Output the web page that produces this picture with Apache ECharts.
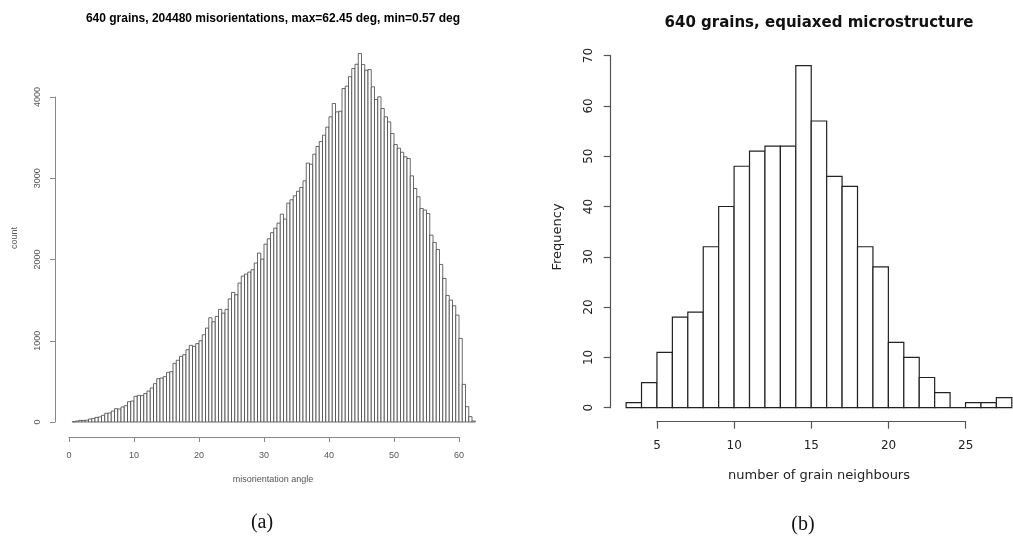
<!DOCTYPE html>
<html>
<head>
<meta charset="utf-8">
<script src="https://cdn.jsdelivr.net/npm/echarts@6/dist/echarts.min.js"></script>
<style>
  html, body { margin: 0; padding: 0; background: #fff; }
  #chart { width: 1013px; height: 540px; }
</style>
</head>
<body>
<div id="chart"></div>
<script>
// (a) misorientation angle histogram, 0.5 deg bins starting at 0.5 deg
var angleStart = 0.5;
var angleBinWidth = 0.5;
var angleCounts = [
  4, 12, 20, 20, 22, 37, 45, 57, 62, 82,
  107, 111, 135, 164, 160, 185, 201, 250, 258, 316,
  328, 324, 350, 381, 418, 472, 533, 541, 558, 611,
  619, 722, 760, 808, 828, 890, 943, 931, 965, 1000,
  1074, 1156, 1283, 1234, 1300, 1386, 1340, 1386, 1515, 1595,
  1566, 1710, 1796, 1820, 1845, 1874, 1956, 2079, 2005, 2189,
  2255, 2330, 2386, 2448, 2558, 2497, 2694, 2735, 2784, 2840,
  2886, 2968, 3186, 3173, 3296, 3391, 3452, 3530, 3629, 3756,
  3920, 3817, 3825, 4104, 4133, 4250, 4350, 4403, 4535, 4399,
  4330, 4338, 4125, 3969, 4002, 3858, 3756, 3694, 3551, 3415,
  3370, 3320, 3264, 3243, 3030, 2874, 2772, 2628, 2608, 2567,
  2300, 2210, 2124, 1939, 1767, 1558, 1500, 1431, 1316, 1029,
  463, 189, 66, 12
];
var angleTicks = [0, 10, 20, 30, 40, 50, 60];
var countTicks = [0, 1000, 2000, 3000, 4000];

// (b) number of neighbours histogram, unit bins from 3 to 28
var nbStart = 3;
var nbBinWidth = 1;
var nbCounts = [1, 5, 11, 18, 19, 32, 40, 48, 51, 52, 52, 68, 57, 46, 44, 32, 28, 13, 10, 6, 3, 0, 1, 1, 2];
var nbTicks = [5, 10, 15, 20, 25];
var freqTicks = [0, 10, 20, 30, 40, 50, 60, 70];

function toBins(start, width, counts) {
  return counts.map(function (c, i) {
    return [start + i * width, start + (i + 1) * width, c];
  });
}

function histItem(stroke, lw) {
  return function (params, api) {
    var p0 = api.coord([api.value(0), 0]);
    var p1 = api.coord([api.value(1), api.value(2)]);
    return {
      type: 'rect',
      shape: { x: p0[0], y: p1[1], width: p1[0] - p0[0], height: p0[1] - p1[1] },
      style: { fill: '#fff', stroke: stroke, lineWidth: lw }
    };
  };
}

function plain(v) {
  return String(v);
}

var leftFont = 'Liberation Sans';
var rightFont = 'DejaVu Sans';
var hidden = { show: false };

var option = {
  animation: false,
  backgroundColor: '#fff',
  title: [
    { text: '640 grains, 204480 misorientations, max=62.45 deg, min=0.57 deg',
      left: 268, top: 8, textAlign: 'center',
      textStyle: { fontFamily: leftFont, fontSize: 12, fontWeight: 'bold', color: '#000' } },
    { text: '640 grains, equiaxed microstructure',
      left: 814, top: 11, textAlign: 'center',
      textStyle: { fontFamily: rightFont, fontSize: 15, fontWeight: 'bold', color: '#111' } }
  ],
  grid: [
    { left: 69, top: 48.25, width: 406.25, height: 373.75 },   // a: data
    { left: 69, top: 427, width: 390, height: 10 },            // a: x axis
    { left: 55, top: 97, width: 10, height: 325 },             // a: y axis
    { left: 626.1, top: 55.6, width: 385.7, height: 352.1 },   // b: data
    { left: 657, top: 411.7, width: 308.7, height: 10 },       // b: x axis
    { left: 610.7, top: 55.6, width: 10, height: 352.1 }       // b: y axis
  ],
  xAxis: [
    { gridIndex: 0, type: 'value', min: 0, max: 62.5, show: false },
    { gridIndex: 1, type: 'value', min: angleTicks[0], max: angleTicks[angleTicks.length - 1], interval: 10,
      axisLine: { lineStyle: { color: '#888', width: 1 } },
      axisTick: { length: 5, lineStyle: { color: '#888' } },
      splitLine: hidden,
      axisLabel: { fontFamily: leftFont, fontSize: 9, color: '#555', margin: 14, formatter: plain } },
    { gridIndex: 2, type: 'value', show: false },
    { gridIndex: 3, type: 'value', min: 3, max: 28, show: false },
    { gridIndex: 4, type: 'value', min: nbTicks[0], max: nbTicks[nbTicks.length - 1], interval: 5,
      axisLine: { lineStyle: { color: '#555', width: 1.2 } },
      axisTick: { length: 7, lineStyle: { color: '#555', width: 1.2 } },
      splitLine: hidden,
      axisLabel: { fontFamily: rightFont, fontSize: 12, color: '#222', margin: 18, formatter: plain } },
    { gridIndex: 5, type: 'value', show: false }
  ],
  yAxis: [
    { gridIndex: 0, type: 'value', min: 0, max: 4600, show: false },
    { gridIndex: 1, type: 'value', show: false },
    { gridIndex: 2, type: 'value', min: countTicks[0], max: countTicks[countTicks.length - 1], interval: 1000,
      axisLine: { show: true, lineStyle: { color: '#888', width: 1 } },
      axisTick: { show: true, length: 5, lineStyle: { color: '#888' } },
      splitLine: hidden,
      axisLabel: { fontFamily: leftFont, fontSize: 9, color: '#555', rotate: 90, margin: 13, formatter: plain } },
    { gridIndex: 3, type: 'value', min: 0, max: 70, show: false },
    { gridIndex: 4, type: 'value', show: false },
    { gridIndex: 5, type: 'value', min: freqTicks[0], max: freqTicks[freqTicks.length - 1], interval: 10,
      axisLine: { show: true, lineStyle: { color: '#555', width: 1.2 } },
      axisTick: { show: true, length: 7, lineStyle: { color: '#555', width: 1.2 } },
      splitLine: hidden,
      axisLabel: { fontFamily: rightFont, fontSize: 12, color: '#222', rotate: 90, margin: 16, formatter: plain } }
  ],
  series: [
    { type: 'custom', xAxisIndex: 0, yAxisIndex: 0,
      renderItem: histItem('#444', 0.8),
      data: toBins(angleStart, angleBinWidth, angleCounts) },
    { type: 'custom', xAxisIndex: 3, yAxisIndex: 3,
      renderItem: histItem('#222', 1.2),
      data: toBins(nbStart, nbBinWidth, nbCounts) }
  ],
  graphic: [
    { type: 'text', x: 15, y: 238, rotation: Math.PI / 2,
      style: { text: 'count', font: '9px "Liberation Sans"', fill: '#555', align: 'center', verticalAlign: 'middle' } },
    { type: 'text', x: 273, y: 480,
      style: { text: 'misorientation angle', font: '9px "Liberation Sans"', fill: '#555', align: 'center', verticalAlign: 'middle' } },
    { type: 'text', x: 558, y: 237, rotation: Math.PI / 2,
      style: { text: 'Frequency', font: '13px "DejaVu Sans"', fill: '#222', align: 'center', verticalAlign: 'middle' } },
    { type: 'text', x: 819, y: 476,
      style: { text: 'number of grain neighbours', font: '13px "DejaVu Sans"', fill: '#222', align: 'center', verticalAlign: 'middle' } },
    { type: 'text', x: 262, y: 523,
      style: { text: '(a)', font: '20px "Liberation Serif"', fill: '#111', align: 'center', verticalAlign: 'middle' } },
    { type: 'text', x: 803, y: 525,
      style: { text: '(b)', font: '20px "Liberation Serif"', fill: '#111', align: 'center', verticalAlign: 'middle' } }
  ]
};

var chart = echarts.init(document.getElementById('chart'));
chart.setOption(option);
window.onresize = function () {
  chart.resize();
};
</script>
</body>
</html>
